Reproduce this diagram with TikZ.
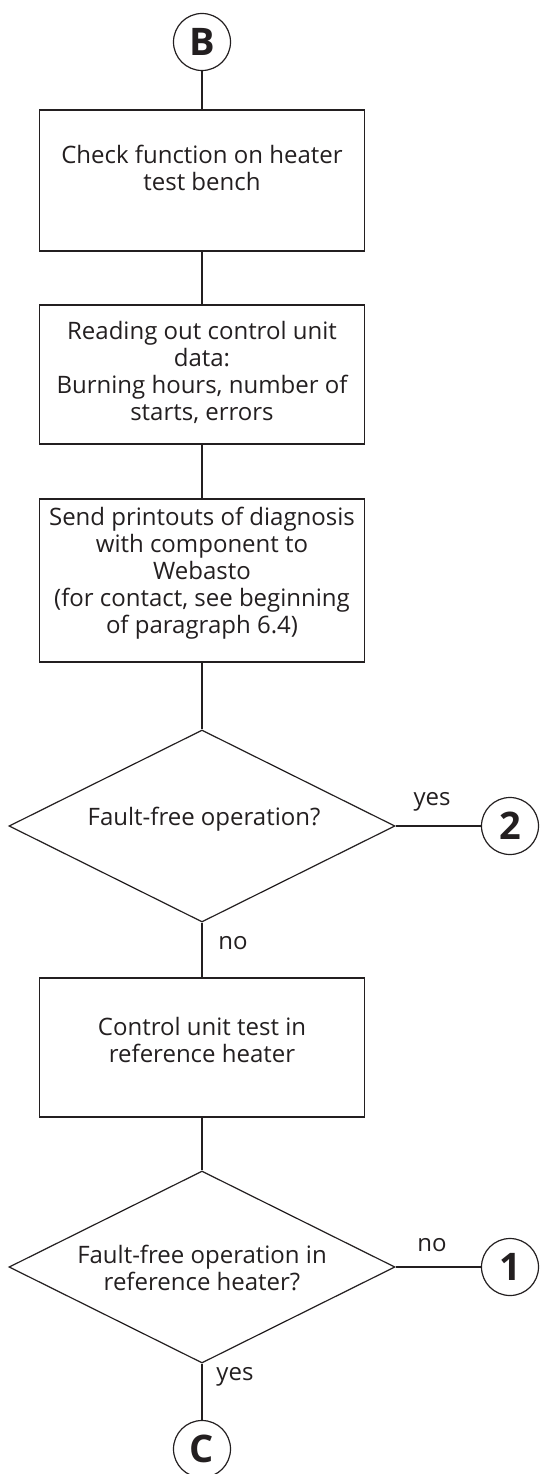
\documentclass[tikz,border=0pt]{standalone}
\usepackage{fontspec}
\setmainfont{Open Sans}
\usetikzlibrary{shapes.geometric}
\definecolor{ink}{HTML}{231F20}
\begin{document}
\begin{tikzpicture}[x=1pt,y=-1pt, line width=1.2pt, draw=ink, text=ink,
  box/.style={draw, rectangle, minimum width=325pt, inner sep=0pt},
  dec/.style={draw, diamond, minimum width=386pt, minimum height=192pt, inner sep=0pt, aspect=2},
  conn/.style={draw, circle, minimum size=57pt, inner sep=0pt, font=\bfseries\fontsize{38}{38}\selectfont},
  txt/.style={align=center, font=\fontsize{24}{27}\selectfont, inner sep=0pt},
  lbl/.style={font=\fontsize{24}{27}\selectfont, inner sep=0pt}]
\useasboundingbox (0,0) rectangle (539,1474);
\node[conn] (B) at (202,42) {B};
\node[box, minimum height=141pt] (b1) at (202,180.5) {};
\node[txt] (t1) at (202,168) {Check function on heater\\test bench};
\node[box, minimum height=139pt] (b2) at (202,374.5) {};
\node[txt] (t2) at (202,372) {Reading out control unit\\data:\\Burning hours, number of\\starts, errors};
\node[box, minimum height=163pt] (b3) at (202,580.5) {};
\node[txt] (t3) at (202,573) {Send printouts of diagnosis\\with component to\\Webasto\\(for contact, see beginning\\of paragraph 6.4)};
\node[dec] (d1) at (202,826) {};
\node[txt] (t4) at (204,819) {Fault-free operation?};
\node[conn] (c2) at (510,826) {2};
\node[box, minimum height=139pt] (b4) at (202,1047.5) {};
\node[txt] (t5) at (202,1040) {Control unit test in\\reference heater};
\node[dec] (d2) at (202,1267) {};
\node[txt] (t6) at (202,1268) {Fault-free operation in\\reference heater?};
\node[conn] (c1) at (510,1267) {1};
\node[conn] (C) at (202,1449) {C};
\node[lbl] (l1) at (432,802) {yes};
\node[lbl] (l2) at (233,943) {no};
\node[lbl] (l3) at (432,1245) {no};
\node[lbl] (l4) at (235,1377) {yes};
\draw (B) -- (b1);
\draw (b1) -- (b2);
\draw (b2) -- (b3);
\draw (b3) -- (d1);
\draw (d1) -- (b4);
\draw (b4) -- (d2);
\draw (d2) -- (C);
\draw (d1.east) -- (c2);
\draw (d2.east) -- (c1);
\end{tikzpicture}
\end{document}
